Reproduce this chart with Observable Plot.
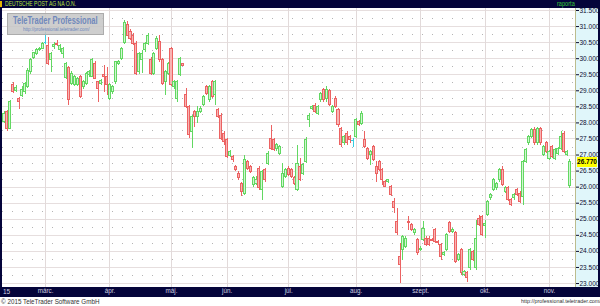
<!DOCTYPE html>
<html><head><meta charset="utf-8">
<script src="https://cdn.jsdelivr.net/npm/d3@7"></script>
<script src="https://cdn.jsdelivr.net/npm/@observablehq/plot@0.6"></script>
<style>
html,body{margin:0;padding:0;background:#fff;}
#wrap{position:relative;width:600px;height:306px;overflow:hidden;background:#fff;font-family:"Liberation Sans",Arial,sans-serif;}
.abs{position:absolute;white-space:nowrap;}
#chart{position:absolute;left:0;top:0;z-index:2;}
#chart svg{display:block;background:transparent;}
</style></head><body>
<div id="wrap">
  <div class="abs" style="left:0;top:0;width:600px;height:8px;background:#04043a;z-index:1"></div>
  <div class="abs" style="left:576px;top:8px;width:22px;height:279px;background:#e0f6fa;z-index:1"></div>
  <div class="abs" style="left:0;top:287px;width:600px;height:10px;background:#04043a;z-index:1"></div>
  <div class="abs" style="left:598px;top:0;width:2px;height:297px;background:#04043a;z-index:1"></div>
  <div class="abs" style="left:0;top:8px;width:2px;height:279px;background:#04043a;z-index:3"></div>
  <div class="abs" style="left:575px;top:8px;width:1px;height:279px;background:#bcbc8e;z-index:3"></div>
  <div id="chart"></div>
  <div class="abs" style="left:0;top:1px;width:2px;height:6px;background:#e2b400;z-index:4"></div>
  <div class="abs" style="left:5px;top:0;height:8px;line-height:8px;font-size:7px;color:#b8e040;transform:scaleX(.72);transform-origin:left center;z-index:4">DEUTSCHE POST AG NA O.N.</div>
  <div class="abs" style="left:557px;top:0;height:8px;line-height:8px;font-size:7px;color:#38c838;transform:scaleX(.8);transform-origin:left center;z-index:4">raporta</div>
  <div class="abs" style="left:3px;top:288px;height:8px;line-height:8px;font-size:6.5px;color:#d4d4e4;z-index:4">15</div>
  <div class="abs" style="left:1px;top:297px;height:9px;line-height:9px;font-size:6.3px;color:#333;z-index:4">© 2015 TeleTrader Software GmbH</div>
  <div class="abs" style="left:521px;top:297px;height:9px;line-height:9px;font-size:6px;color:#333;transform:scaleX(.9);transform-origin:left center;z-index:4">http://professional.teletrader.com/</div>
  <div class="abs" style="left:7px;top:13px;width:95px;height:20px;background:rgba(198,198,198,0.85);border:1px solid #acacac;z-index:4">
    <div class="abs" style="left:5px;top:1px;height:11px;line-height:11px;font-size:10px;font-weight:bold;color:#7088bb;transform:scaleX(.75);transform-origin:left center">TeleTrader Professional</div>
    <div class="abs" style="left:15px;top:12px;height:7px;line-height:7px;font-size:6px;color:#7088bb;transform:scaleX(.75);transform-origin:left center">http://professional.teletrader.com/</div>
  </div>
  <div id="tag" class="abs" style="left:577px;width:20px;height:10px;line-height:10px;background:#ffff00;font-size:6.5px;font-weight:bold;color:#000;text-align:center;z-index:4"></div>
</div>
<script>
const open = [
28.03,28.34,27.82,29.17,29.00,28.73,28.83,28.95,29.12,29.58,
30.03,30.15,30.26,30.31,30.50,30.41,29.95,30.35,30.47,30.26,
30.15,29.40,29.72,29.22,29.17,29.17,29.43,29.12,29.22,29.48,
29.43,29.84,29.27,29.22,29.48,29.43,28.75,28.96,29.27,29.84,
29.99,30.50,31.05,30.83,30.72,30.46,29.58,29.95,30.26,30.46,
29.95,29.53,30.31,30.52,29.95,29.27,29.53,30.31,29.12,28.75,
29.48,29.82,28.86,28.50,27.72,28.34,28.18,28.34,28.55,29.12,
28.70,29.27,28.86,28.39,28.23,27.67,27.46,26.98,26.94,26.63,
26.42,26.11,25.80,26.79,26.63,26.06,26.11,26.58,25.90,26.53,
26.73,27.51,27.46,27.20,27.04,26.01,26.32,26.58,26.53,26.27,
25.90,26.63,26.42,26.79,28.08,28.44,28.52,28.28,28.70,29.01,
28.75,28.98,28.34,28.76,28.39,27.82,27.36,27.67,27.56,27.46,
27.56,28.03,27.98,27.46,27.20,26.99,27.25,26.63,26.79,26.53,
26.16,26.16,26.01,25.54,24.92,23.83,24.04,24.14,24.92,24.82,
24.56,24.35,24.04,24.35,24.40,24.40,24.35,24.66,24.30,24.20,
23.88,24.04,24.87,24.61,24.56,23.73,24.04,23.26,23.32,23.47,
23.99,23.47,25.02,25.08,24.80,25.13,25.65,25.91,25.96,26.22,
26.53,25.85,25.96,25.59,25.65,25.91,25.80,25.70,26.78,27.36,
27.56,27.77,27.36,27.82,27.00,27.36,26.89,27.25,26.89,27.04,
27.20,27.67,26.99,26.05];
const high = [
28.34,28.40,28.70,29.27,29.15,28.78,29.12,29.25,29.68,30.00,
30.20,30.32,30.36,30.50,30.82,30.65,30.20,30.50,30.58,30.45,
30.35,29.88,29.76,29.60,29.48,29.42,29.48,29.32,29.58,29.62,
30.00,29.90,29.30,29.35,29.79,29.74,29.22,29.17,29.92,29.95,
30.35,31.18,31.15,30.90,30.78,30.52,30.20,30.26,30.50,30.78,
30.05,30.20,30.69,30.72,30.00,29.62,29.89,30.34,29.32,29.32,
30.05,29.85,29.07,28.55,28.23,28.39,28.50,28.50,28.86,29.17,
29.17,29.32,29.32,28.44,28.28,27.72,27.51,27.15,26.98,26.68,
26.48,26.16,26.99,26.84,26.68,26.32,26.32,26.63,26.53,26.58,
27.10,27.92,27.51,27.35,27.30,26.73,26.58,26.63,26.58,26.32,
27.30,26.89,26.73,27.56,28.28,28.55,28.60,28.55,28.96,29.07,
29.12,29.05,28.55,28.81,28.44,27.87,27.61,27.72,27.61,27.51,
28.13,28.08,28.34,27.72,27.25,27.15,27.30,26.79,26.84,26.58,
26.20,26.25,26.06,25.65,25.34,24.25,24.51,24.45,25.08,24.87,
24.71,24.40,24.14,24.92,24.45,24.45,24.40,24.71,24.35,24.25,
23.99,24.56,24.92,24.71,24.61,23.94,24.09,23.42,23.37,24.09,
24.04,24.97,25.13,25.13,24.97,25.59,25.80,26.27,26.16,26.58,
26.63,26.01,26.01,25.65,25.80,25.96,25.85,26.84,27.20,27.61,
27.82,27.87,27.87,27.87,27.30,27.41,27.15,27.30,27.20,27.25,
27.72,27.72,27.15,26.85];
const low = [
27.98,27.72,27.78,28.91,28.95,28.42,28.80,28.90,29.08,29.50,
29.98,30.10,30.22,30.28,30.45,29.79,29.58,30.30,30.38,30.20,
30.00,29.35,28.55,29.15,29.12,29.12,28.75,29.05,29.18,29.42,
29.40,29.35,28.65,29.18,28.96,28.86,28.70,28.90,29.20,29.78,
29.95,30.45,30.68,30.58,30.42,29.48,29.50,29.53,30.20,30.40,
29.48,29.48,30.26,29.89,29.17,28.86,29.48,29.12,29.05,28.65,
29.43,29.75,28.44,27.51,27.20,27.87,27.98,28.28,28.50,28.86,
28.65,28.76,28.55,28.13,27.46,27.30,26.89,26.92,26.78,26.48,
26.22,25.70,25.75,26.53,26.42,26.00,26.06,25.90,25.59,26.16,
26.68,27.15,27.10,27.10,26.98,25.96,26.27,26.32,26.27,26.06,
25.85,26.18,26.37,26.73,27.87,28.39,28.30,28.23,28.65,28.65,
28.65,28.50,28.28,28.44,27.87,27.25,27.30,27.30,27.36,27.25,
27.51,27.88,27.93,27.20,26.84,26.68,26.79,26.16,26.48,26.06,
25.98,26.12,25.70,25.18,24.51,23.00,23.73,24.09,24.66,24.61,
24.50,23.88,24.00,24.30,24.15,24.14,24.30,24.25,24.19,23.73,
23.83,23.99,24.56,24.56,23.62,23.68,23.26,23.21,23.02,23.42,
23.68,23.42,24.76,24.45,24.40,25.08,25.59,25.85,25.91,26.16,
26.01,25.80,25.54,25.39,25.59,25.70,25.49,25.44,26.73,27.30,
27.51,27.30,27.30,27.30,26.94,27.04,26.84,26.89,26.84,26.99,
27.15,27.04,26.94,25.95];
const close = [
28.27,27.80,28.65,28.96,29.08,28.66,29.04,29.20,29.63,29.95,
30.17,30.28,30.31,30.46,30.50,29.84,30.15,30.42,30.42,30.41,
30.30,29.84,28.70,29.53,29.43,29.38,28.81,29.27,29.53,29.58,
29.95,29.38,29.07,29.32,29.43,29.17,29.17,29.12,29.89,29.89,
30.31,31.12,30.72,30.62,30.46,29.53,30.15,30.15,30.46,30.72,
29.53,30.15,30.62,29.95,29.22,29.58,29.84,29.17,29.27,29.27,
30.00,29.78,28.50,27.62,28.18,28.18,28.34,28.44,28.81,28.91,
29.12,28.81,29.27,28.18,27.51,27.41,26.94,27.10,26.84,26.53,
26.27,25.85,26.84,26.58,26.48,26.27,26.22,25.96,26.48,26.22,
27.04,27.20,27.15,27.30,27.25,26.42,26.53,26.37,26.32,26.11,
26.73,26.22,26.68,27.46,28.23,28.50,28.34,28.50,28.91,28.70,
29.01,28.55,28.50,28.50,27.93,27.30,27.56,27.36,27.46,27.46,
28.08,27.93,28.29,27.25,26.89,27.10,26.84,26.42,26.53,26.22,
26.01,26.22,25.75,25.34,24.56,23.57,24.45,24.40,24.87,24.66,
24.66,23.94,24.09,24.71,24.20,24.19,24.33,24.30,24.25,23.83,
23.94,24.51,24.61,24.66,23.68,23.88,23.32,23.37,23.16,24.04,
23.73,24.40,24.82,24.51,24.85,25.54,25.75,26.22,26.11,26.53,
26.06,25.96,25.59,25.44,25.75,25.75,25.54,26.78,27.15,27.56,
27.77,27.36,27.82,27.36,27.25,27.10,27.10,26.94,27.15,27.20,
27.56,27.10,27.10,26.77];

const tickValues = [31.5,31.0,30.5,30.0,29.5,29.0,28.5,28.0,27.5,27.0,26.5,26.0,25.5,25.0,24.5,24.0,23.5,23.0];
const gridMinor = [31.25,30.75,30.25,29.75,29.25,28.75,28.25,27.75,27.25,26.75,26.25,25.75,25.25,24.75,24.25,23.75,23.25];
const monthLabels = ["márc.","ápr.","máj.","jún.","júl.","aug.","szept.","okt.","nov."];
const monthStart = [14,36,57,76,97,120,142,164,186];

const candles = open.map((o,i) => ({i, o, h: high[i], l: low[i], c: close[i]}));
const GREEN = {stroke:"#62d862", fill:"#d2f5d2"};
const RED = {stroke:"#ec6262", fill:"#f8b4b4"};
const CYAN = "#36cce0";
const kind = d => d.c > d.o ? GREEN : RED;
const bodies = candles.filter(d => d.c !== d.o);
const dojis = candles.filter(d => d.c === d.o);

const chart = Plot.plot({
  width: 600, height: 306,
  marginTop: 8, marginBottom: 19, marginLeft: 2, marginRight: 25,
  x: {domain: [-0.683, 194.88], axis: null},
  y: {domain: [22.876, 31.562], axis: null},
  style: {background: "transparent", fontFamily: "Liberation Sans, Arial, sans-serif", overflow: "visible"},
  marks: [
    Plot.ruleY(gridMinor, {stroke: "#b4b4b4", strokeDasharray: "1,9", shapeRendering: "crispEdges"}),
    Plot.ruleY(tickValues, {stroke: "#e6dede", shapeRendering: "crispEdges"}),
    Plot.ruleX(monthStart, {stroke: "#e2dada", shapeRendering: "crispEdges"}),
    Plot.ruleX(candles, {x: "i", y1: "l", y2: "h", stroke: d => d.c === d.o ? CYAN : kind(d).stroke, shapeRendering: "crispEdges"}),
    Plot.rect(bodies, {x1: d => d.i - 0.35, x2: d => d.i + 0.35, y1: "o", y2: "c",
      fill: d => kind(d).fill, stroke: d => kind(d).stroke, shapeRendering: "crispEdges"}),
    Plot.ruleY(dojis, {y: "c", x1: d => d.i - 0.45, x2: d => d.i + 0.45, stroke: CYAN, shapeRendering: "crispEdges"}),
    Plot.axisY(tickValues, {anchor: "right", tickSize: 3, tickPadding: 1, tickFormat: d3.format(".3f"),
      fontSize: 6.5, color: "#0c0c30"}),
    Plot.text(monthStart, {x: d => d, text: (d, i) => monthLabels[i], frameAnchor: "bottom", dy: 5.5,
      fill: "#d0d0e0", fontSize: 6.3})
  ]
});
document.getElementById("chart").appendChild(chart);

const lastClose = close[close.length - 1];
const tag = document.getElementById("tag");
tag.textContent = d3.format(".3f")(lastClose);
tag.style.top = (chart.scale("y").apply(lastClose) - 5) + "px";
</script>
</body></html>
